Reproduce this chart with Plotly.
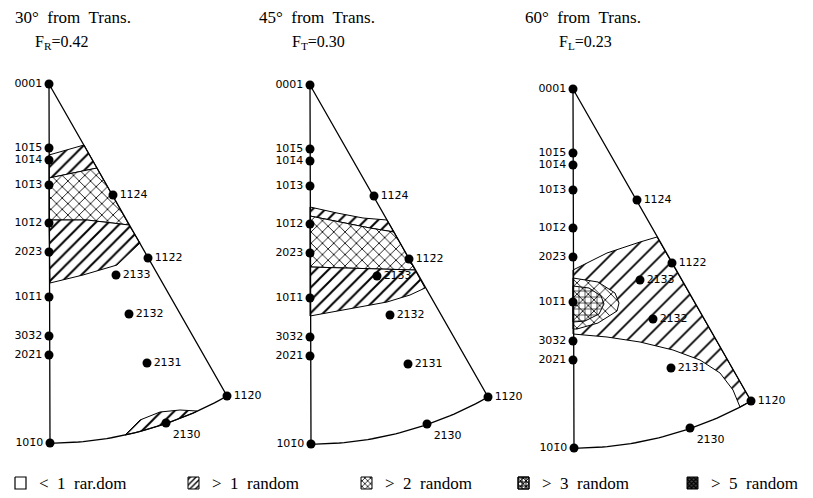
import numpy as np
import plotly.graph_objects as go

# ---------------------------------------------------------------- data
B = "\u0304"  # bar over a negative Miller-Bravais index
pole_labels = ["0001", "101" + B + "5", "101" + B + "4", "101" + B + "3", "101" + B + "2",
               "202" + B + "3", "101" + B + "1", "303" + B + "2", "202" + B + "1", "101" + B + "0",
               "112" + B + "4", "112" + B + "2", "213" + B + "3", "213" + B + "2", "213" + B + "1",
               "112" + B + "0", "213" + B + "0"]
# pole positions read from the projection (offset from the 0001 pole, px of the original)
pole_dx = [0, 0, 0, 0, 0, 0, 0, 0, 0, 1, 64, 99, 67, 80, 98, 178, 117]
pole_dy = [0, 64, 76, 101, 139, 168, 213, 252, 271, 359, 111, 174, 191, 230, 279, 312, 339]
pole_textpos = (["middle left"] * 10) + (["middle right"] * 6) + ["bottom right"]

panel_titles = ["30°  from  Trans.", "45°  from  Trans.", "60°  from  Trans."]
panel_factors = ["F<sub>R</sub>=0.42", "F<sub>T</sub>=0.30", "F<sub>L</sub>=0.23"]

# contour outlines (offsets from the 0001 pole), level = times random
p1_gt1_upper = [(0, 71), (35, 61), (48, 84), (0, 94)]
p1_gt2 = [(0, 94), (48, 84), (80, 141), (38, 136), (0, 136)]
p1_gt1_lower = [(0, 136), (38, 136), (80, 141), (91, 159), (68, 181), (34, 191), (1, 199)]
p1_gt1_lens = [(76, 351), (91, 336), (111, 328), (131, 326), (148, 327)]  # closes on primitive circle

p2_gt1_upper = [(0, 122), (27, 128), (53, 133), (77, 135), (84, 147), (60, 143), (30, 137), (0, 131)]
p2_gt2 = [(0, 131), (30, 137), (60, 143), (84, 147), (105, 185), (0, 182)]
p2_gt1_lower = [(0, 182), (105, 185), (115, 203), (100, 210), (77, 217), (43, 223), (0, 231)]

p3_gt1_top = [(0, 181), (34, 164), (67, 153), (84, 148)]
p3_gt1_bottom = [(167, 318), (160, 301), (147, 284), (127, 271), (100, 261), (67, 253), (34, 248), (0, 245)]
p3_gt2 = [(0, 189), (25, 193), (42, 204), (46, 214), (44, 222), (25, 234), (4, 240), (0, 240)]
p3_gt3 = [(0, 197), (16, 199), (28, 207), (31, 215), (26, 225), (12, 232), (0, 233)]

legend_labels = ["<  1  rar.dom", ">  1  random", ">  2  random", ">  3  random", ">  5  random"]

# ---------------------------------------------------------------- layout constants
W, H = 813, 498
panel_x0 = [49, 310, 573]
panel_y0 = [84, 85, 89]
title_x = [13, 257, 523]
factor_x = [33, 290, 557]
legend_x = [15, 188, 361, 518, 687]
legend_y = 483

INK = "#000000"
fig = go.Figure()


def pts(panel, offsets):
    x0, y0 = panel_x0[panel], panel_y0[panel]
    return [x0 + float(dx) for dx, dy in offsets], [y0 + float(dy) for dx, dy in offsets]


R = float(np.hypot(pole_dx[15], pole_dy[15]))  # primitive circle radius


def arc(p_from, p_to, n=40):
    a0 = np.arctan2(p_from[0], p_from[1])
    a1 = np.arctan2(p_to[0], p_to[1])
    a = np.linspace(a0, a1, n)
    return list(zip(R * np.sin(a), R * np.cos(a)))


def pattern(level, size, solid):
    if level == 1:
        return dict(shape="/", size=size, solidity=solid, fgcolor=INK, fgopacity=1, bgcolor="white")
    if level == 2:
        return dict(shape="x", size=8, solidity=0.2, fgcolor=INK, fgopacity=1, bgcolor="white")
    if level == 3:
        return dict(shape="+", size=6, solidity=0.2, fgcolor=INK, fgopacity=1,
                    bgcolor="rgba(0,0,0,0)")
    return dict(shape="x", size=3, solidity=0.5, fgcolor=INK, fgopacity=1, bgcolor="white")


def add_poly(x, y, fp=None, fillcolor="white", lw=1.0):
    x = list(x) + [x[0]]
    y = list(y) + [y[0]]
    kw = dict(fillpattern=fp) if fp else {}
    fig.add_trace(go.Scatter(x=x, y=y, mode="lines", fill="toself", fillcolor=fillcolor,
                             line=dict(color=INK, width=lw), hoverinfo="skip",
                             showlegend=False, **kw))


def add_region(panel, offsets, level, size=9, solid=0.22):
    x, y = pts(panel, offsets)
    fc = "rgba(0,0,0,0)" if level == 3 else "white"
    add_poly(x, y, pattern(level, size, solid), fillcolor=fc)


top = (pole_dx[0], pole_dy[0])
p1010 = (pole_dx[9], pole_dy[9])
p1120 = (pole_dx[15], pole_dy[15])
tri = [top, p1010] + arc(p1010, p1120) + [p1120]

for p in range(3):
    x, y = pts(p, tri)
    add_poly(x, y, None, fillcolor="white", lw=0)

# panel 1
add_region(0, p1_gt1_upper, 1)
add_region(0, p1_gt2, 2)
add_region(0, p1_gt1_lower, 1)
add_region(0, p1_gt1_lens + arc(p1_gt1_lens[-1], p1_gt1_lens[0], 20), 1)
# panel 2
add_region(1, p2_gt1_upper, 1)
add_region(1, p2_gt2, 2)
add_region(1, p2_gt1_lower, 1)
# panel 3
add_region(2, p3_gt1_top + [p1120] + arc(p1120, p3_gt1_bottom[0], 10) + p3_gt1_bottom, 1,
           size=12, solid=0.15)
add_region(2, p3_gt2, 2)
add_region(2, p3_gt3, 3)

for p in range(3):
    x, y = pts(p, tri + [top])
    fig.add_trace(go.Scatter(x=x, y=y, mode="lines", line=dict(color=INK, width=1.3),
                             hoverinfo="skip", showlegend=False))
    x, y = pts(p, list(zip(pole_dx, pole_dy)))
    fig.add_trace(go.Scatter(x=x, y=y, mode="markers+text", text=pole_labels,
                             textposition=pole_textpos,
                             textfont=dict(family="DejaVu Sans", size=11, color=INK),
                             marker=dict(size=9, color=INK), hoverinfo="skip", showlegend=False))
    fig.add_annotation(x=title_x[p], y=17, text=panel_titles[p], showarrow=False,
                       xanchor="left", yanchor="middle",
                       font=dict(family="Liberation Serif", size=17, color=INK))
    fig.add_annotation(x=factor_x[p], y=42, text=panel_factors[p], showarrow=False,
                       xanchor="left", yanchor="middle",
                       font=dict(family="Liberation Serif", size=16, color=INK))

# legend swatches
sw, sh = 11, 12
for i, lab in enumerate(legend_labels):
    x0 = legend_x[i]
    sx = [x0, x0 + sw, x0 + sw, x0]
    sy = [legend_y - sh / 2, legend_y - sh / 2, legend_y + sh / 2, legend_y + sh / 2]
    if i == 0:
        add_poly(sx, sy, None, fillcolor="white", lw=1.2)
    elif i == 1:
        add_poly(sx, sy, dict(shape="/", size=4, solidity=0.35, fgcolor=INK, fgopacity=1,
                              bgcolor="white"), lw=1)
    elif i == 2:
        add_poly(sx, sy, dict(shape="x", size=4, solidity=0.35, fgcolor=INK, fgopacity=1,
                              bgcolor="white"), lw=1)
    elif i == 3:
        add_poly(sx, sy, dict(shape="x", size=4, solidity=0.4, fgcolor=INK, fgopacity=1,
                              bgcolor="white"), lw=1)
        add_poly(sx, sy, dict(shape="+", size=4, solidity=0.4, fgcolor=INK, fgopacity=1,
                              bgcolor="rgba(0,0,0,0)"), fillcolor="rgba(0,0,0,0)", lw=1)
    else:
        add_poly(sx, sy, dict(shape="x", size=3, solidity=0.6, fgcolor=INK, fgopacity=1,
                              bgcolor="#444"), lw=1)
    fig.add_annotation(x=x0 + sw + 11, y=legend_y, text=lab, showarrow=False,
                       xanchor="left", yanchor="middle",
                       font=dict(family="Liberation Serif", size=17, color=INK))

fig.update_layout(
    width=W, height=H, margin=dict(l=0, r=0, t=0, b=0),
    paper_bgcolor="white", plot_bgcolor="white", showlegend=False,
    xaxis=dict(range=[0, W], visible=False, showgrid=False, zeroline=False, fixedrange=True),
    yaxis=dict(range=[H, 0], visible=False, showgrid=False, zeroline=False, fixedrange=True),
)
fig.write_html("out.html")
